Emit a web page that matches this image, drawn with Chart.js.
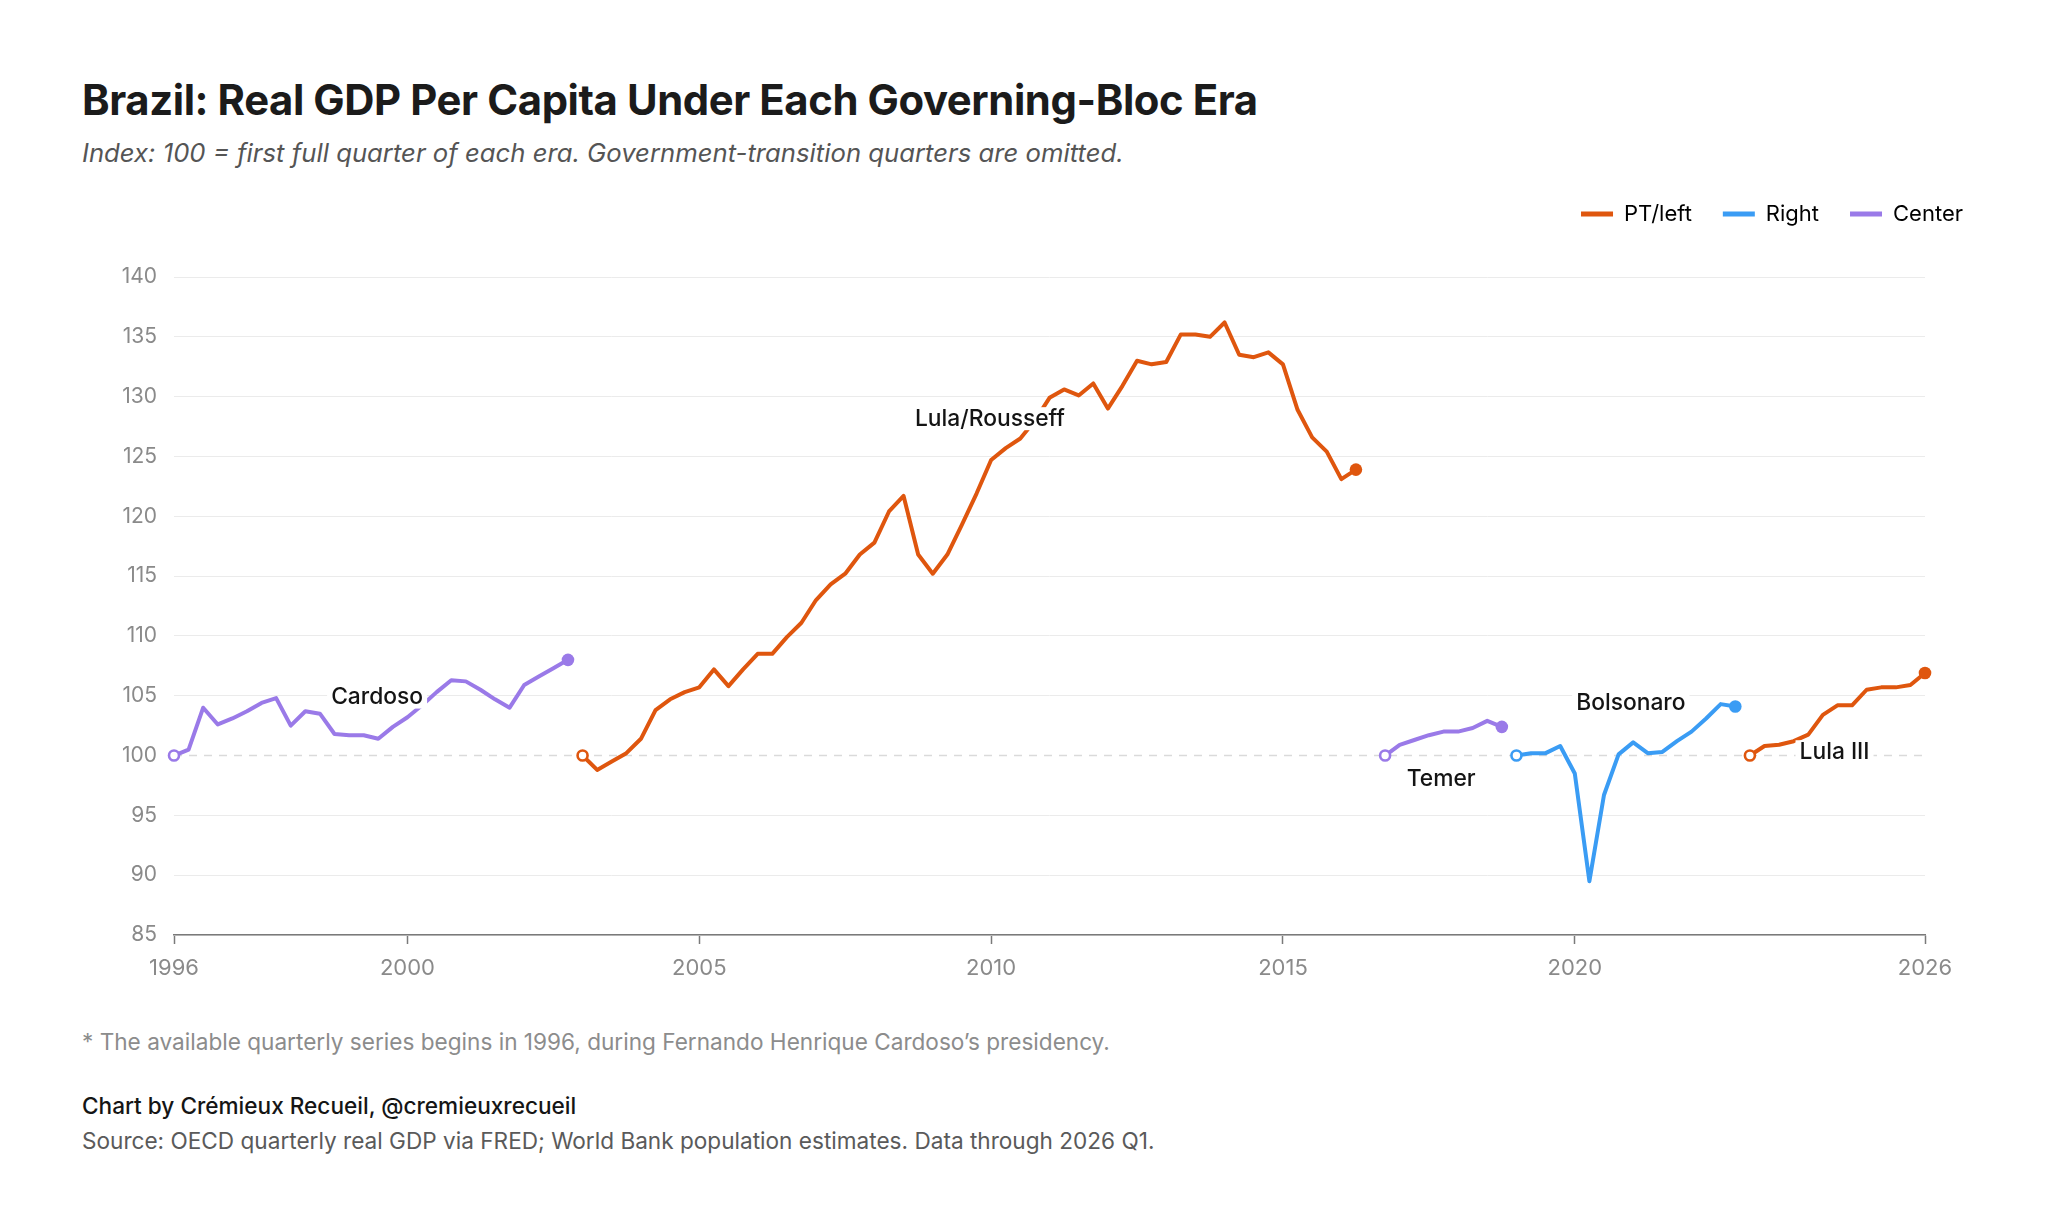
<!DOCTYPE html>
<html>
<head>
<meta charset="utf-8">
<title>Brazil: Real GDP Per Capita Under Each Governing-Bloc Era</title>
<script src="https://cdn.jsdelivr.net/npm/chart.js@4.4.1/dist/chart.umd.min.js"></script>
<style>
    html, body { margin: 0; padding: 0; background: #ffffff; }
    body { width: 2047px; height: 1208px; position: relative; overflow: hidden; font-family: Inter, "Noto Sans", sans-serif; }
    .txt { position: absolute; left: 82px; white-space: nowrap; }
    #title { top: 75px; font-size: 41.8px; line-height: 50px; font-weight: 700; color: #1b1b1b; letter-spacing: -0.4px; }
    #subtitle { top: 137px; font-size: 25.7px; line-height: 32px; font-style: italic; color: #555555; }
    #note { top: 1028px; font-size: 22.6px; line-height: 28px; color: #8c8c8c; }
    #credit { top: 1092px; font-size: 22.6px; line-height: 28px; font-weight: 500; color: #151515; }
    #source { top: 1127px; font-size: 22.6px; line-height: 28px; color: #5a5a5a; }
    #box { position: absolute; left: 82px; top: 172px; width: 1912px; height: 808px; }
</style>
</head>
<body>

<div class="txt" id="title">Brazil: Real GDP Per Capita Under Each Governing-Bloc Era</div>
<div class="txt" id="subtitle">Index: 100 = first full quarter of each era. Government-transition quarters are omitted.</div>

<div id="box"><canvas id="gdpChart"></canvas></div>

<div class="txt" id="note">* The available quarterly series begins in 1996, during Fernando Henrique Cardoso’s presidency.</div>
<div class="txt" id="credit">Chart by Crémieux Recueil, @cremieuxrecueil</div>
<div class="txt" id="source">Source: OECD quarterly real GDP via FRED; World Bank population estimates. Data through 2026 Q1.</div>

<script>
// ======================================================
// Data
// ======================================================

const blocs = ["PT/left", "Right", "Center"];

const eras = ["Cardoso", "Lula/Rousseff", "Temer", "Bolsonaro", "Lula III"];

const eraBlocs = ["Center", "PT/left", "Center", "Right", "PT/left"];

const eraStarts = ["1996 Q1", "2003 Q1", "2016 Q4", "2019 Q1", "2023 Q1"];

const cardoso = [
    100.0, 100.5, 104.0, 102.6, 103.1, 103.7, 104.4, 104.8,
    102.5, 103.7, 103.5, 101.8, 101.7, 101.7, 101.4, 102.4,
    103.2, 104.2, 105.3, 106.3, 106.2, 105.5, 104.7, 104.0,
    105.9, 106.6, 107.3, 108.0
];

const lulaRousseff = [
    100.0, 98.8, 99.5, 100.2, 101.4, 103.8, 104.7, 105.3,
    105.7, 107.2, 105.8, 107.2, 108.5, 108.5, 109.9, 111.1,
    113.0, 114.3, 115.2, 116.8, 117.8, 120.4, 121.7, 116.8,
    115.2, 116.8, 119.3, 121.9, 124.7, 125.7, 126.5, 128.0,
    129.9, 130.6, 130.1, 131.1, 129.0, 130.9, 133.0, 132.7,
    132.9, 135.2, 135.2, 135.0, 136.2, 133.5, 133.3, 133.7,
    132.7, 128.9, 126.6, 125.4, 123.1, 123.9
];

const temer = [
    100.0, 100.9, 101.3, 101.7, 102.0, 102.0, 102.3, 102.9, 102.4
];

const bolsonaro = [
    100.0, 100.2, 100.2, 100.8, 98.5, 89.5, 96.7, 100.1,
    101.1, 100.2, 100.3, 101.2, 102.0, 103.1, 104.3, 104.1
];

const lulaIII = [
    100.0, 100.8, 100.9, 101.2, 101.75, 103.4, 104.2, 104.2,
    105.5, 105.7, 105.7, 105.9, 106.9
];

const eraValues = [cardoso, lulaRousseff, temer, bolsonaro, lulaIII];

const xTicks = [1996, 2000, 2005, 2010, 2015, 2020, 2026];

const yMin = 85;
const yMax = 140;
const yStep = 5;

// ======================================================
// Styles
// ======================================================

const blocColors = {
    "PT/left": "#df560e",
    "Right": "#3a9cf4",
    "Center": "#9a7ae8"
};

// label anchor, in axis units (year, index)
const eraLabelAt = {
    "Cardoso": [1999.48, 104.93],
    "Lula/Rousseff": [2009.98, 128.2],
    "Temer": [2017.71, 98.07],
    "Bolsonaro": [2020.96, 104.48],
    "Lula III": [2024.45, 100.36]
};

const FONT = "Inter, 'Noto Sans', sans-serif";

// ======================================================
// Helpers
// ======================================================

function quarterToX(start, i) {

    const parts = start.split(" Q");

    return Number(parts[0]) + (Number(parts[1]) - 1) / 4 + i / 4;

}

const datasets = eras.map((name, e) => {

    const values = eraValues[e];
    const color = blocColors[eraBlocs[e]];
    const last = values.length - 1;

    return {

        label: name,

        data: values.map((v, i) => ({ x: quarterToX(eraStarts[e], i), y: v })),

        borderColor: color,

        borderWidth: 4,

        borderJoinStyle: "round",

        borderCapStyle: "round",

        tension: 0,

        fill: false,

        clip: false,

        pointRadius: ctx => ctx.dataIndex === 0 ? 5 : (ctx.dataIndex === last ? 6.3 : 0),

        pointHoverRadius: 0,

        pointBorderWidth: ctx => ctx.dataIndex === 0 ? 2.6 : 0,

        pointBorderColor: color,

        pointBackgroundColor: ctx => ctx.dataIndex === 0 ? "#ffffff" : color

    };

});

// ======================================================
// Plugins
// ======================================================

const legendGap = {

    id: "legendGap",

    beforeInit(chart) {

        const fit = chart.legend.fit;

        chart.legend.fit = function () {

            fit.call(this);

            this.height += 42;

        };

    }

};

const baseline = {

    id: "baseline",

    beforeDatasetsDraw(chart) {

        const { ctx, chartArea, scales } = chart;
        const y = scales.y.getPixelForValue(100);

        ctx.save();
        ctx.strokeStyle = "#dadada";
        ctx.lineWidth = 1.5;
        ctx.setLineDash([8, 7]);
        ctx.beginPath();
        ctx.moveTo(chartArea.left, y);
        ctx.lineTo(chartArea.right, y);
        ctx.stroke();
        ctx.restore();

    }

};

const eraLabels = {

    id: "eraLabels",

    afterDatasetsDraw(chart) {

        const { ctx, scales } = chart;

        ctx.save();
        ctx.font = "500 22.8px " + FONT;
        ctx.textAlign = "center";
        ctx.textBaseline = "middle";

        eras.forEach(name => {

            const at = eraLabelAt[name];
            const px = scales.x.getPixelForValue(at[0]);
            const py = scales.y.getPixelForValue(at[1]);
            const w = ctx.measureText(name).width;

            ctx.fillStyle = "#ffffff";
            ctx.fillRect(px - w / 2 - 4, py - 11, w + 8, 23);

            ctx.fillStyle = "#141414";
            ctx.fillText(name, px, py + 1);

        });

        ctx.restore();

    }

};

// ======================================================
// Chart
// ======================================================

new Chart(

    document.getElementById("gdpChart"),

    {

        type: "line",

        data: { datasets },

        options: {

            responsive: true,

            maintainAspectRatio: false,

            animation: false,

            layout: { padding: 0 },

            plugins: {

                legend: {

                    position: "top",

                    align: "end",

                    labels: {

                        font: { family: FONT, size: 22 },

                        color: "#1e1e1e",

                        boxWidth: 32,

                        boxHeight: 5,

                        useBorderRadius: true,

                        borderRadius: 2.5,

                        padding: 31,

                        generateLabels: () => blocs.map(b => ({

                            text: b,

                            fillStyle: blocColors[b],

                            strokeStyle: blocColors[b],

                            lineWidth: 0,

                            hidden: false

                        }))

                    },

                    onClick: () => {}

                },

                tooltip: { enabled: false }

            },

            scales: {

                x: {

                    type: "linear",

                    min: xTicks[0],

                    max: xTicks[xTicks.length - 1],

                    afterBuildTicks: scale => {

                        scale.ticks = xTicks.map(v => ({ value: v }));

                    },

                    afterFit: scale => {

                        scale.height = 45;
                        scale.paddingLeft = 0;
                        scale.paddingRight = 69;

                    },

                    grid: {

                        drawOnChartArea: false,

                        drawTicks: true,

                        tickLength: 9,

                        tickColor: "#7a7a7a",

                        tickWidth: 1.5

                    },

                    border: { display: true, color: "#7a7a7a", width: 1.5 },

                    ticks: {

                        autoSkip: false,

                        maxRotation: 0,

                        padding: 11,

                        color: "#8a8a8a",

                        font: { family: FONT, size: 22 },

                        callback: v => String(v)

                    }

                },

                y: {

                    min: yMin,

                    max: yMax,

                    afterFit: scale => {

                        scale.width = 92;

                    },

                    grid: {

                        drawTicks: false,

                        color: ctx => ctx.tick && ctx.tick.value === 100 ? "rgba(0,0,0,0)" : "#ebebeb",

                        lineWidth: 1

                    },

                    border: { display: false },

                    ticks: {

                        stepSize: yStep,

                        padding: 17,

                        color: "#8a8a8a",

                        font: { family: FONT, size: 21 },

                        callback: v => String(v)

                    }

                }

            }

        },

        plugins: [legendGap, baseline, eraLabels]

    }

);
</script>
</body>
</html>
